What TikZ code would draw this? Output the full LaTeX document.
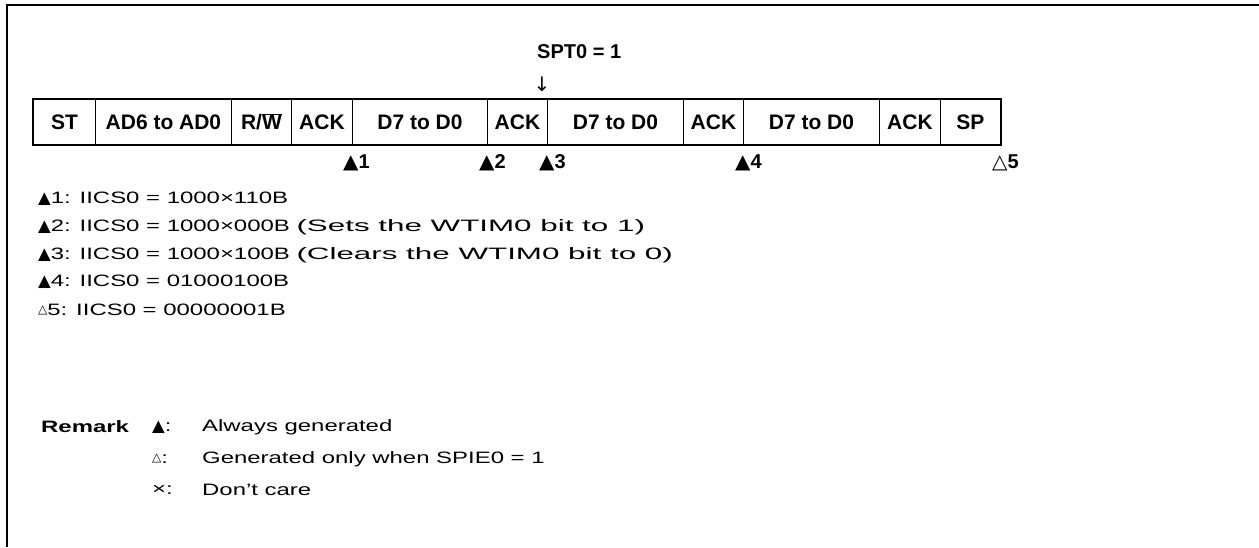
\documentclass[tikz,border=0pt]{standalone}
\usepackage{fontspec}
\setmainfont{Liberation Sans}
\newfontfamily\sym{DejaVu Sans}
\newfontfamily\bodyfont[FakeStretch=1.45]{Liberation Sans}
\newfontfamily\parfont[FakeStretch=1.9]{Liberation Sans}
\begin{document}
\begin{tikzpicture}[x=1pt,y=-1pt,
  cell/.style={draw, line width=0.9pt, inner sep=0pt, minimum height=45pt, anchor=north west, font=\fontsize{21}{24}\selectfont\bfseries},
  lbl/.style={anchor=west, inner sep=0pt, font=\fontsize{20}{22}\selectfont\bfseries},
  body/.style={anchor=west, inner sep=0pt, font=\fontsize{16.5}{20}\bodyfont},
  framel/.style={line width=2pt}]
\useasboundingbox (0,0) rectangle (1259,547);
\draw[framel] (7,547) -- (7,5) -- (1259,5);
% cells
\node[cell, minimum width=62pt]  (c1)  at (33,99)  {ST};
\node[cell, minimum width=136pt] (c2)  at (95,99)  {AD6 to AD0};
\node[cell, minimum width=60pt]  (c3)  at (231,99) {R/$\overline{\mbox{W}}$};
\node[cell, minimum width=61pt]  (c4)  at (291,99) {ACK};
\node[cell, minimum width=135pt] (c5)  at (352,99) {D7 to D0};
\node[cell, minimum width=60pt]  (c6)  at (487,99) {ACK};
\node[cell, minimum width=136pt] (c7)  at (547,99) {D7 to D0};
\node[cell, minimum width=60pt]  (c8)  at (683,99) {ACK};
\node[cell, minimum width=136pt] (c9)  at (743,99) {D7 to D0};
\node[cell, minimum width=61pt]  (c10) at (879,99) {ACK};
\node[cell, minimum width=60pt]  (c11) at (940,99) {SP};
\draw[line width=2pt] (c1.north west) rectangle (c11.south east);
% SPT0 label and arrow
\node[lbl] (spt) at (537,52) {SPT0 = 1};
\node[inner sep=0pt, font=\fontsize{20}{22}\selectfont\sym] (arr) at (542,84) {↓};
% markers
\node[lbl] (m1) at (343,163) {{\sym ▲}1};
\node[lbl] (m2) at (479,163) {{\sym ▲}2};
\node[lbl] (m3) at (539,163) {{\sym ▲}3};
\node[lbl] (m4) at (735,163) {{\sym ▲}4};
\node[lbl] (m5) at (992,163) {{\sym △}5};
% legend lines
\node[body] (l1) at (38,199) {{\sym ▲}1: IICS0 = 1000×110B};
\node[body] (l2) at (38,227) {{\sym ▲}2: IICS0 = 1000×000B {\parfont (Sets the WTIM0 bit to 1)}};
\node[body] (l3) at (38,255) {{\sym ▲}3: IICS0 = 1000×100B {\parfont (Clears the WTIM0 bit to 0)}};
\node[body] (l4) at (38,282) {{\sym ▲}4: IICS0 = 01000100B};
\node[body] (l5) at (38,310) {\raisebox{2pt}{\fontsize{12}{14}\selectfont\sym △}5: IICS0 = 00000001B};
% remark
\node[body, font=\fontsize{16.5}{20}\bodyfont\bfseries] (rem) at (41,427) {Remark};
\node[body] (r1s) at (152,427) {{\sym ▲}:};
\node[body] (r2s) at (152,459) {\raisebox{2pt}{\fontsize{12}{14}\selectfont\sym △}:};
\node[body] (r3s) at (152,490) {×:};
\node[body] (r1) at (202,427) {Always generated};
\node[body] (r2) at (202,459) {Generated only when SPIE0 = 1};
\node[body] (r3) at (202,490) {Don’t care};
\end{tikzpicture}
\end{document}
